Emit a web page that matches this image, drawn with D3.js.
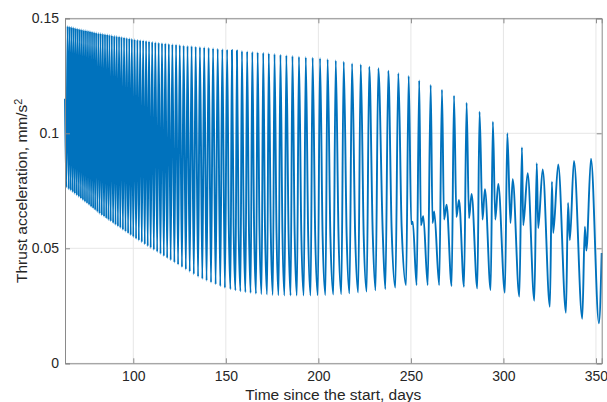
<!DOCTYPE html>
<html>
<head>
<meta charset="utf-8">
<script src="https://cdn.jsdelivr.net/npm/d3@7"></script>
<style>
body { margin: 0; background: #fff; }
text { font-family: Helvetica, Arial, "Liberation Sans", sans-serif; fill: #262626; }
</style>
</head>
<body>
<div id="chart"></div>
<script>
// spike tops of each oscillation (days, mm/s^2)
var peakDay = [64.5, 65.6, 66.7, 67.8, 68.9, 70.0, 71.1, 72.2, 73.3, 74.4, 75.5, 76.6, 77.7, 78.8, 79.9,
	81.1, 82.3, 83.5, 84.7, 85.9, 87.1, 88.4, 89.7, 91.0, 92.3, 93.6, 95.0, 96.4, 97.8, 99.2,
	100.7, 102.2, 103.7, 105.3, 106.9, 108.5, 110.2, 111.9, 113.7, 115.5, 117.3, 119.2, 121.1, 123.1, 125.1,
	127.2, 129.3, 131.5, 133.7, 136.0, 138.3, 140.7, 143.1, 145.6, 148.1, 150.7, 153.3, 156.0, 158.7, 161.5,
	164.3, 167.2, 170.2, 173.2, 176.3, 179.5, 182.7, 186.0, 189.5, 193.2, 196.9, 200.9, 205.0, 209.4, 213.7,
	218.2, 222.9, 227.5, 232.4, 237.8, 243.2, 248.8, 254.5, 260.7, 266.8, 273.3, 280.1, 287.1, 294.3, 302.1,
	310.0, 318.0, 326.2, 334.9, 344.0];
var peakVal = [0.1466, 0.1464, 0.1462, 0.1460, 0.1457, 0.1455, 0.1453, 0.1451, 0.1449, 0.1448, 0.1446, 0.1444, 0.1442, 0.1440, 0.1438,
	0.1436, 0.1435, 0.1433, 0.1431, 0.1430, 0.1428, 0.1426, 0.1424, 0.1423, 0.1421, 0.1419, 0.1417, 0.1415, 0.1413, 0.1411,
	0.1409, 0.1407, 0.1405, 0.1404, 0.1402, 0.1400, 0.1398, 0.1396, 0.1394, 0.1392, 0.1391, 0.1389, 0.1387, 0.1386, 0.1384,
	0.1382, 0.1380, 0.1379, 0.1377, 0.1375, 0.1374, 0.1372, 0.1370, 0.1368, 0.1366, 0.1364, 0.1362, 0.1360, 0.1358, 0.1356,
	0.1354, 0.1352, 0.1350, 0.1348, 0.1345, 0.1342, 0.1339, 0.1336, 0.1333, 0.1331, 0.1329, 0.1326, 0.1322, 0.1317, 0.1311,
	0.1304, 0.1299, 0.1290, 0.1283, 0.1272, 0.1261, 0.1249, 0.1230, 0.1210, 0.1190, 0.1164, 0.1133, 0.1094, 0.1050, 0.1000,
	0.0939, 0.0870, 0.0790, 0.0697, 0.0594];

// troughs
var lowDay = [63.8, 65.1, 66.2, 67.3, 68.4, 69.5, 70.6, 71.7, 72.8, 73.9, 75.0, 76.1, 77.2, 78.3, 79.4,
	80.6, 81.8, 83.0, 84.2, 85.4, 86.6, 87.8, 89.1, 90.4, 91.7, 93.0, 94.4, 95.8, 97.2, 98.6,
	100.0, 101.5, 103.0, 104.6, 106.2, 107.8, 109.4, 111.1, 112.9, 114.7, 116.5, 118.3, 120.2, 122.2, 124.2,
	126.3, 128.4, 130.5, 132.7, 135.0, 137.3, 139.6, 142.0, 144.5, 147.0, 149.5, 152.5, 155.2, 157.9, 160.6,
	163.4, 166.3, 169.3, 172.3, 175.4, 178.5, 181.7, 185.0, 188.4, 192.1, 195.8, 199.7, 203.8, 208.1, 212.4,
	216.8, 221.5, 226.1, 230.9, 236.2, 241.6, 247.4, 253.1, 259.1, 265.3, 272.0, 278.7, 285.9, 293.1, 300.8,
	308.6, 316.7, 325.1, 333.8, 342.6, 351.6];
var lowVal = [0.0765, 0.0757, 0.0751, 0.0744, 0.0737, 0.0730, 0.0723, 0.0716, 0.0709, 0.0702, 0.0695, 0.0688, 0.0680, 0.0673, 0.0666,
	0.0658, 0.0650, 0.0643, 0.0637, 0.0630, 0.0623, 0.0617, 0.0609, 0.0602, 0.0595, 0.0588, 0.0580, 0.0572, 0.0565, 0.0557,
	0.0549, 0.0541, 0.0534, 0.0526, 0.0517, 0.0509, 0.0501, 0.0493, 0.0484, 0.0475, 0.0466, 0.0457, 0.0448, 0.0438, 0.0429,
	0.0418, 0.0408, 0.0398, 0.0387, 0.0376, 0.0367, 0.0359, 0.0351, 0.0343, 0.0335, 0.0328, 0.0322, 0.0317, 0.0313, 0.0309,
	0.0306, 0.0303, 0.0301, 0.0299, 0.0297, 0.0296, 0.0295, 0.0295, 0.0295, 0.0295, 0.0295, 0.0296, 0.0297, 0.0299, 0.0301,
	0.0304, 0.0308, 0.0312, 0.0317, 0.0323, 0.0329, 0.0340, 0.0340, 0.0340, 0.0340, 0.0336, 0.0333, 0.0326, 0.0319, 0.0307,
	0.0290, 0.0272, 0.0246, 0.0220, 0.0194, 0.0174];

// shoulder / secondary hump after each spike (from day ~150 on)
var bumpDay = [151.6, 154.2, 156.9, 159.7, 162.5, 165.3, 168.2, 171.2, 174.3, 177.4, 180.6, 183.9, 187.2, 190.8, 194.5,
	198.3, 202.3, 206.5, 210.9, 215.3, 219.9, 224.5, 229.4, 234.8, 239.6, 245.0, 251.0, 256.7, 262.6, 269.3,
	276.0, 282.8, 290.0, 297.2, 305.0, 313.1, 321.2, 329.6, 338.1, 347.3];
var bumpVal = [0.0600, 0.0595, 0.0590, 0.0585, 0.0580, 0.0577, 0.0574, 0.0571, 0.0568, 0.0566, 0.0564, 0.0562, 0.0560, 0.0558, 0.0556,
	0.0555, 0.0554, 0.0553, 0.0553, 0.0553, 0.0554, 0.0555, 0.0558, 0.0565, 0.0580, 0.0594, 0.0616, 0.0640, 0.0660, 0.0690,
	0.0710, 0.0736, 0.0757, 0.0780, 0.0800, 0.0826, 0.0843, 0.0865, 0.0880, 0.0890];
// small dip between spike and hump
var dipDay = [250.2, 255.4, 261.7, 267.9, 274.6, 281.4, 288.7, 295.6, 303.8, 310.7, 318.8, 326.9, 335.9, 344.8];
var dipVal = [0.0605, 0.0600, 0.0610, 0.0625, 0.0636, 0.0630, 0.0625, 0.0625, 0.0610, 0.0600, 0.0588, 0.0567, 0.0536, 0.0490];

var startDay = [63.1], startVal = [0.1150];
var endDay = [353.1], endVal = [0.0480];

var x_ticks = [100, 150, 200, 250, 300, 350];
var y_ticks = [0, 0.05, 0.1, 0.15];
var y_labels = ['0', '0.05', '0.1', '0.15'];

var width = 607;
var height = 402;
var margin = { top: 18.3, right: 5.3, bottom: 38.7, left: 65 };
var inner_w = width - margin.left - margin.right;
var inner_h = height - margin.top - margin.bottom;

// collect every point into one series
var data = [];
function add(days, vals) {
	days.forEach(function (d, i) { data.push({ t: d, v: vals[i] }); });
}
add(startDay, startVal);
add(peakDay, peakVal);
add(lowDay, lowVal);
add(bumpDay, bumpVal);
add(dipDay, dipVal);
add(endDay, endVal);
data.sort(function (a, b) { return a.t - b.t; });

var svg = d3.select('#chart')
	.append('svg')
	.attr('width', width)
	.attr('height', height);

var x_scale = d3.scaleLinear()
	.domain([63.1, 353.1])
	.range([margin.left, width - margin.right]);
var y_scale = d3.scaleLinear()
	.domain([0, 0.15])
	.range([height - margin.bottom, margin.top]);

// grid
svg.append('g')
	.selectAll('line')
	.data(x_ticks)
	.enter()
	.append('line')
	.attr('x1', function (d) { return x_scale(d); })
	.attr('x2', function (d) { return x_scale(d); })
	.attr('y1', margin.top)
	.attr('y2', height - margin.bottom)
	.attr('stroke', '#e6e6e6');
svg.append('g')
	.selectAll('line')
	.data(y_ticks)
	.enter()
	.append('line')
	.attr('x1', margin.left)
	.attr('x2', width - margin.right)
	.attr('y1', function (d) { return y_scale(d); })
	.attr('y2', function (d) { return y_scale(d); })
	.attr('stroke', '#e6e6e6');

// the curve
var line = d3.line()
	.x(function (d) { return x_scale(d.t); })
	.y(function (d) { return y_scale(d.v); })
	.curve(d3.curveMonotoneX);

svg.append('path')
	.datum(data)
	.attr('d', line)
	.attr('fill', 'none')
	.attr('stroke', '#0072bd')
	.attr('stroke-width', 1.9)
	.attr('stroke-linejoin', 'round');

// axes, ticks pointing inwards like matlab
var tick = 5;
var x_bottom = d3.axisBottom(x_scale).tickValues(x_ticks).tickSize(-tick).tickPadding(8).tickFormat(d3.format('d'));
var x_top = d3.axisTop(x_scale).tickValues(x_ticks).tickSize(-tick).tickFormat('');
var y_left = d3.axisLeft(y_scale).tickValues(y_ticks).tickSize(-tick).tickPadding(6)
	.tickFormat(function (d, i) { return y_labels[i]; });
var y_right = d3.axisRight(y_scale).tickValues(y_ticks).tickSize(-tick).tickFormat('');

function style_axis(g) {
	g.selectAll('path').attr('stroke', '#8a8a8a');
	g.selectAll('line').attr('stroke', '#8a8a8a');
	g.selectAll('text').attr('font-size', 14).attr('fill', '#262626');
}

svg.append('g').attr('transform', 'translate(0,' + (height - margin.bottom) + ')').call(x_bottom).call(style_axis);
svg.append('g').attr('transform', 'translate(0,' + margin.top + ')').call(x_top).call(style_axis);
svg.append('g').attr('transform', 'translate(' + margin.left + ',0)').call(y_left).call(style_axis);
svg.append('g').attr('transform', 'translate(' + (width - margin.right) + ',0)').call(y_right).call(style_axis);

// axis titles
svg.append('text')
	.attr('x', margin.left + inner_w / 2)
	.attr('y', 399.5)
	.attr('text-anchor', 'middle')
	.attr('font-size', 15.5)
	.text('Time since the start, days');

var ylab = svg.append('text')
	.attr('transform', 'translate(27,' + (margin.top + inner_h / 2) + ') rotate(-90)')
	.attr('text-anchor', 'middle')
	.attr('font-size', 15.5);
ylab.append('tspan').text('Thrust acceleration, mm/s');
ylab.append('tspan').attr('dy', '-0.45em').attr('font-size', '0.7em').text('2');
</script>
</body>
</html>
